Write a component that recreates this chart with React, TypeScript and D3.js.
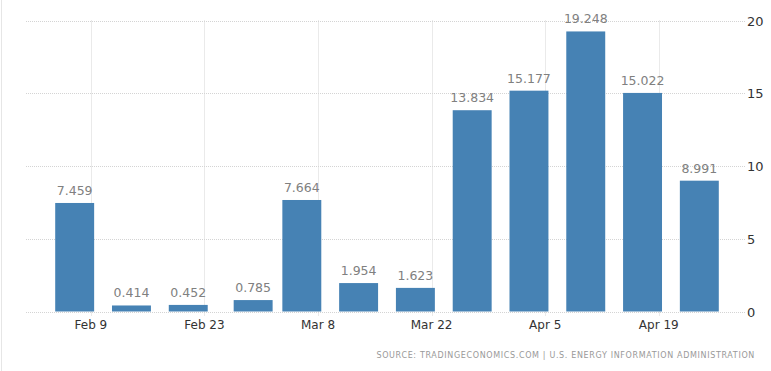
import React from 'react';
import * as d3 from 'd3';

// weekly values
const weekDates = ['2020-02-07', '2020-02-14', '2020-02-21', '2020-02-29', '2020-03-06', '2020-03-13',
    '2020-03-20', '2020-03-27', '2020-04-03', '2020-04-10', '2020-04-17', '2020-04-24'];
const weekValues = [7.459, 0.414, 0.452, 0.785, 7.664, 1.954, 1.623, 13.834, 15.177, 19.248, 15.022, 8.991];
const tickDates = ['2020-02-09', '2020-02-23', '2020-03-08', '2020-03-22', '2020-04-05', '2020-04-19'];
const yTicks = [0, 5, 10, 15, 20];
const sourceText = 'SOURCE: TRADINGECONOMICS.COM | U.S. ENERGY INFORMATION ADMINISTRATION';

const parse = d3.timeParse('%Y-%m-%d');
const fmt = d3.timeFormat('%b %-d');

const App: React.FC = () => {
    const width = 771;
    const height = 371;
    const font = '"DejaVu Sans", Verdana, sans-serif';

    const x = d3.scaleTime()
        .domain([parse('2020-02-01') as Date, parse('2020-04-30') as Date])
        .range([26, 748]);
    const y = d3.scaleLinear().domain([0, 20]).range([311.5, 20.5]);

    const dayPx = x(parse('2020-02-02') as Date) - x(parse('2020-02-01') as Date);
    const barW = dayPx * 4.8;

    const data = weekDates.map((d, i) => ({ date: parse(d) as Date, value: weekValues[i] }));
    const ticks = tickDates.map(d => parse(d) as Date);
    const [x0, x1] = x.range();

    return (
        <div style={{ position: 'absolute', left: 0, top: 0 }}>
            <svg width={width} height={height} style={{ display: 'block', background: '#fff' }}>
                {/* left frame line */}
                <line x1={1.5} x2={1.5} y1={0} y2={height} stroke="#e6e6e6" />

                {/* horizontal grid */}
                {yTicks.map(t => (
                    <line key={'h' + t} x1={x0} x2={x1 - 3} y1={Math.round(y(t)) + 0.5} y2={Math.round(y(t)) + 0.5}
                        stroke="#d4d4d4" strokeDasharray="1,1" />
                ))}

                {/* vertical grid at date ticks */}
                {ticks.map((t, i) => (
                    <line key={'v' + i} x1={Math.round(x(t)) + 0.5} x2={Math.round(x(t)) + 0.5}
                        y1={y(20)} y2={y(0) + 4} stroke="#d4d4d4" strokeDasharray="1,1" />
                ))}

                {/* bars */}
                {data.map((d, i) => (
                    <rect key={'b' + i} x={x(d.date) - barW / 2} y={y(d.value)} width={barW}
                        height={y(0) - y(d.value)} fill="#4682b4" />
                ))}

                {/* value labels */}
                {data.map((d, i) => (
                    <text key={'l' + i} x={x(d.date)} y={y(d.value) - 8} textAnchor="middle"
                        fontFamily={font} fontSize={12.5} fill="#808080">{d.value.toFixed(3)}</text>
                ))}

                {/* x tick labels */}
                {ticks.map((t, i) => (
                    <text key={'x' + i} x={x(t)} y={329} textAnchor="middle"
                        fontFamily={font} fontSize={12} fill="#333">{fmt(t)}</text>
                ))}

                {/* y tick labels */}
                {yTicks.map(t => (
                    <text key={'y' + t} x={747} y={y(t) + 5} textAnchor="start"
                        fontFamily={font} fontSize={13} fill="#333">{t}</text>
                ))}

                {/* source */}
                <text x={755} y={358} textAnchor="end" fontFamily={font} fontSize={8}
                    fill="#999" letterSpacing={0.65}>{sourceText}</text>
            </svg>
        </div>
    );
};

export default App;
